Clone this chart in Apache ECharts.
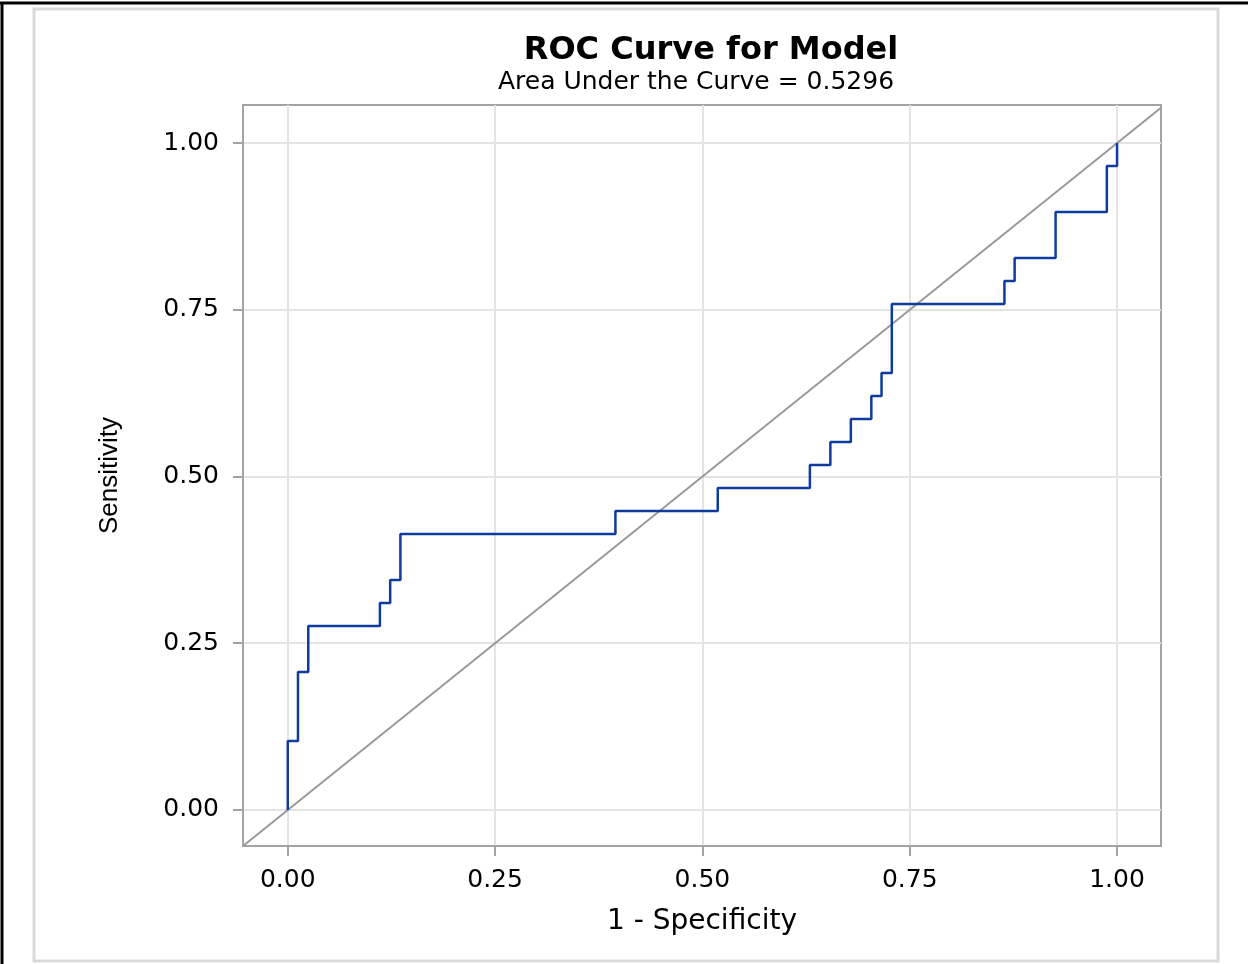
<!DOCTYPE html>
<html>
<head>
<meta charset="utf-8">
<script src="https://cdn.jsdelivr.net/npm/echarts@6/dist/echarts.min.js"></script>
<style>
  html, body { margin: 0; padding: 0; background: #fff; }
  #chart { width: 1248px; height: 964px; }
</style>
</head>
<body>
<div id="chart"></div>
<script>
  // ROC points (1 - specificity, sensitivity)
  const fpr  = [0, 0, 0.0123, 0.0247, 0.1111, 0.1235, 0.1358, 0.3951, 0.5185, 0.6296,
                0.6543, 0.6790, 0.7037, 0.7160, 0.7284, 0.8642, 0.8765, 0.9259, 0.9877, 1.0]
  const sens = [0, 0.1034, 0.2069, 0.2759, 0.3103, 0.3448, 0.4138, 0.4483, 0.4828, 0.5172,
                0.5517, 0.5862, 0.6207, 0.6552, 0.7586, 0.7931, 0.8276, 0.8966, 0.9655, 1.0]
  const tickValues = [0, 0.25, 0.5, 0.75, 1.0]
  const xRange = [-0.054, 1.053]
  const yRange = [-0.054, 1.057]
  const diagonal = [[-0.054, -0.054], [1.053, 1.053]]
  const auc = '0.5296'

  const chart = echarts.init(document.getElementById('chart'))
  const frameGray = '#a3a3a3'
  const labelFmt = v => v.toFixed(2)

  let option = {
    animation: false,
    backgroundColor: '#fff',
    title: [
      {
        text: 'ROC Curve for Model',
        left: 706, top: 30, textAlign: 'center',
        textStyle: { fontFamily: 'DejaVu Sans', fontWeight: 'bold', fontSize: 32, color: '#000' }
      },
      {
        text: 'Area Under the Curve = ' + auc,
        left: 691, top: 65, textAlign: 'center',
        textStyle: { fontFamily: 'DejaVu Sans', fontWeight: 'normal', fontSize: 25, color: '#000' }
      }
    ],
    graphic: [
      { type: 'line', shape: { x1: 0, y1: 3, x2: 1248, y2: 3 }, style: { stroke: '#000', lineWidth: 3 } },
      { type: 'line', shape: { x1: 2, y1: 2, x2: 2, y2: 964 }, style: { stroke: '#000', lineWidth: 3 } },
      { type: 'rect', shape: { x: 34, y: 9, width: 1184, height: 952 }, style: { fill: 'none', stroke: '#d9d9d9', lineWidth: 3 } }
    ],
    grid: {
      left: 243, top: 105, right: 87, bottom: 118,
      show: true, borderColor: frameGray, borderWidth: 2,
      outerBoundsMode: 'none'
    },
    xAxis: {
      type: 'value', min: xRange[0], max: xRange[1],
      name: '1 - Specificity', nameLocation: 'middle', nameGap: 62,
      nameTextStyle: { fontFamily: 'DejaVu Sans', fontSize: 28, color: '#000' },
      axisLine: { show: true, onZero: false, lineStyle: { color: frameGray, width: 2 } },
      axisTick: { show: true, length: 10, customValues: tickValues, lineStyle: { color: frameGray, width: 2 } },
      axisLabel: { customValues: tickValues, formatter: labelFmt, margin: 22,
        fontFamily: 'DejaVu Sans', fontSize: 25, color: '#000' },
      splitLine: { show: true, lineStyle: { color: '#e4e4e4', width: 2 } }
    },
    yAxis: {
      type: 'value', min: yRange[0], max: yRange[1],
      name: 'Sensitivity', nameLocation: 'middle', nameGap: 120,
      nameTextStyle: { fontFamily: 'Liberation Sans', fontSize: 26, color: '#000' },
      axisLine: { show: true, onZero: false, lineStyle: { color: frameGray, width: 2 } },
      axisTick: { show: true, length: 10, customValues: tickValues, lineStyle: { color: frameGray, width: 2 } },
      axisLabel: { customValues: tickValues, formatter: labelFmt, margin: 24,
        fontFamily: 'DejaVu Sans', fontSize: 25, color: '#000' },
      splitLine: { show: true, lineStyle: { color: '#e4e4e4', width: 2 } }
    },
    series: [
      {
        type: 'line', name: 'chance',
        data: diagonal, symbol: 'none', silent: true,
        lineStyle: { color: '#999', width: 2 }
      },
      {
        type: 'line', name: 'Model',
        data: fpr.map((x, i) => [x, sens[i]]),
        step: 'end', symbol: 'none',
        lineStyle: { color: '#0f3b9d', width: 2.5 }
      }
    ]
  }
  chart.setOption(option)
</script>
</body>
</html>
